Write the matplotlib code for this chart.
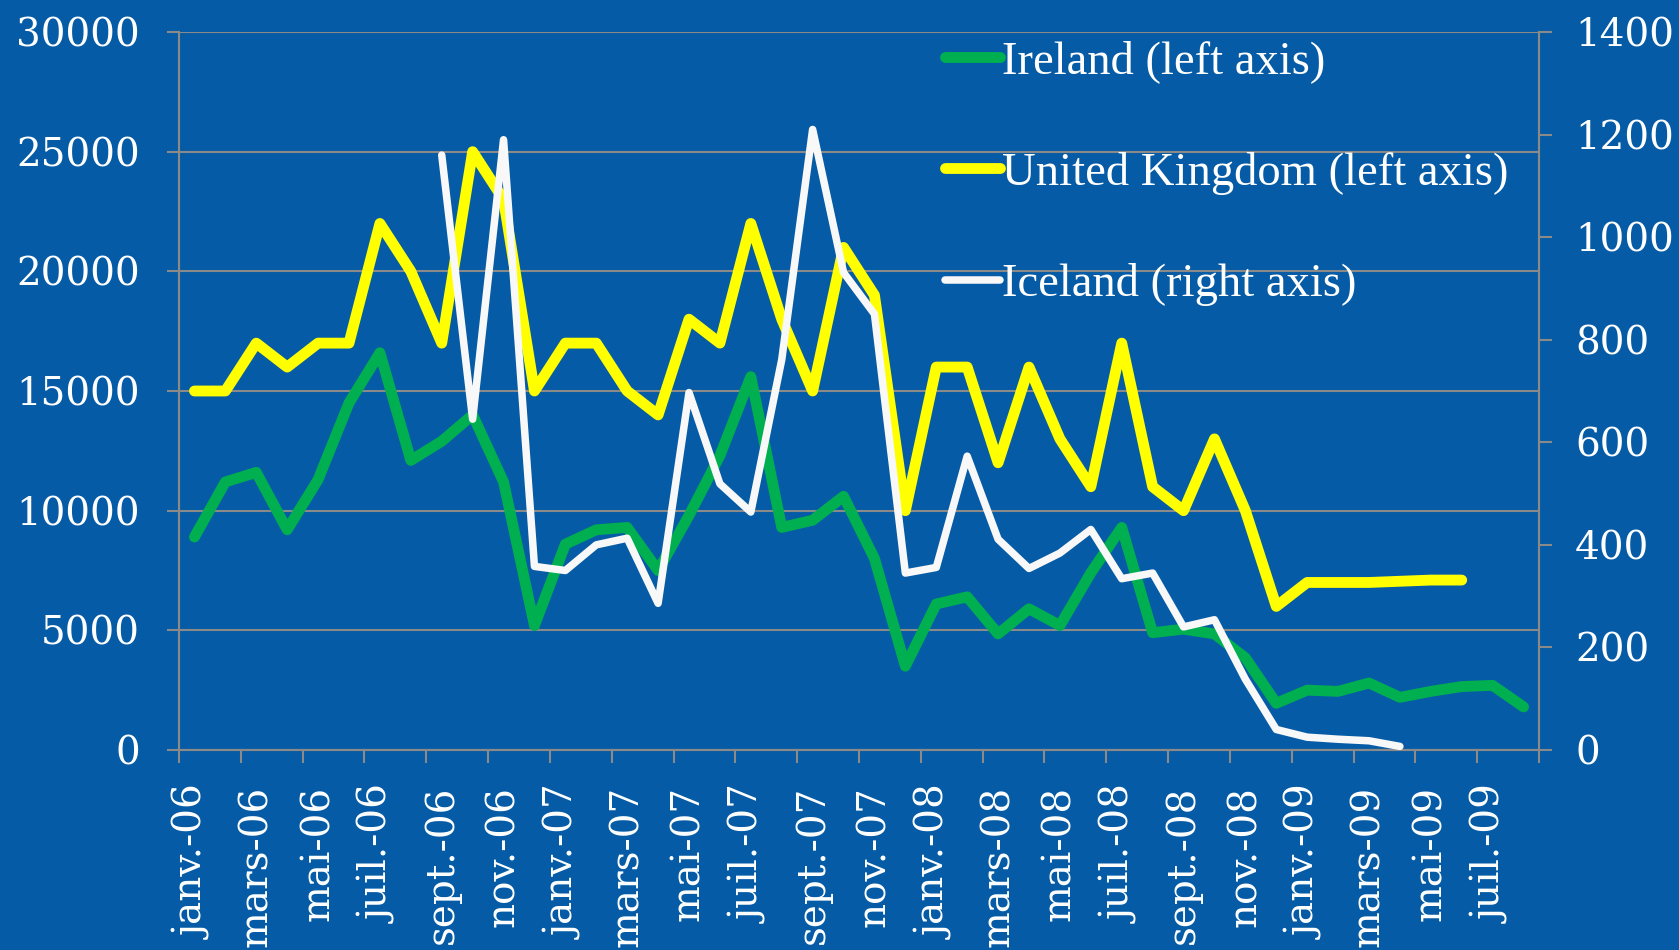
import numpy as np
import matplotlib
matplotlib.use("Agg")
import matplotlib.pyplot as plt
from matplotlib.ticker import FixedLocator, NullFormatter, FixedFormatter

month_names = ['janv.', 'févr.', 'mars', 'avr.', 'mai', 'juin',
               'juil.', 'août', 'sept.', 'oct.', 'nov.', 'déc.']
years = ['06', '07', '08', '09']
categories = [f"{m}-{y}" for y in years for m in month_names][:44]

ireland = [8900, 11200, 11600, 9200, 11300, 14500, 16600, 12100, 12900, 14000,
           11200, 5200, 8600, 9200, 9300, 7500, 9800, 12300, 15600, 9300,
           9600, 10600, 8000, 3500, 6100, 6400, 4850, 5900, 5200, 7400,
           9300, 4900, 5050, 4850, 3850, 1950, 2500, 2450, 2800, 2200,
           2450, 2650, 2700, 1800]

uk = [15000, 15000, 17000, 16000, 17000, 17000, 22000, 20000, 17000, 25000,
      23000, 15000, 17000, 17000, 15000, 14000, 18000, 17000, 22000, 18000,
      15000, 21000, 19000, 10000, 16000, 16000, 12000, 16000, 13000, 11000,
      17000, 11000, 10000, 13000, 10000, 6000, 7000, 7000, 7000, 7050,
      7100, 7100, None, None]

iceland = [None] * 8 + [1160, 645, 1190, 358, 350, 400, 413, 286, 697, 519,
                        464, 761, 1210, 931, 850, 345, 356, 573, 411, 354,
                        384, 430, 334, 345, 240, 254, 138, 40, 25, 21,
                        18, 7] + [None] * 4

left_ticks = [0, 5000, 10000, 15000, 20000, 25000, 30000]
right_ticks = [0, 200, 400, 600, 800, 1000, 1200, 1400]

BG = '#055BA5'
GRID = '#8A8A8A'
GREEN = '#00B050'
YELLOW = '#FFFF00'
WHITE = '#F8F8F8'

def arr(v):
    return np.array([np.nan if x is None else x for x in v], dtype=float)

fig = plt.figure(figsize=(16.79, 9.50), dpi=100, facecolor=BG)
ax = fig.add_axes([179/1679, 1 - 750/950, (1539-179)/1679, (750-32)/950])
ax.set_facecolor(BG)
ax2 = ax.twinx()
ax2.patch.set_visible(False)

x = np.arange(len(categories))
ax.plot(x, arr(ireland), color=GREEN, lw=7.8, solid_capstyle='round',
        label='Ireland (left axis)', zorder=3)
ax.plot(x, arr(uk), color=YELLOW, lw=7.8, solid_capstyle='round',
        label='United Kingdom (left axis)', zorder=4)
ax2.plot(x, arr(iceland), color=WHITE, lw=5.4, solid_capstyle='round',
         label='Iceland (right axis)', zorder=5)

ax.set_xlim(-0.5, len(categories) - 0.5)
ax.set_ylim(0, 30000)
ax2.set_ylim(0, 1400)

ax.set_yticks(left_ticks)
ax.set_yticklabels([str(t) for t in left_ticks])
ax2.set_yticks(right_ticks)
ax2.set_yticklabels([str(t) for t in right_ticks])

ax.grid(axis='y', color=GRID, lw=1.5, zorder=1)
ax.set_axisbelow(True)

# x ticks: marks at boundaries, labels at category centres
bounds = np.arange(-0.5, len(categories), 2)
ax.xaxis.set_major_locator(FixedLocator(bounds))
ax.xaxis.set_major_formatter(NullFormatter())
label_pos = x[::2]
ax.xaxis.set_minor_locator(FixedLocator(label_pos))
ax.xaxis.set_minor_formatter(FixedFormatter([categories[i] for i in label_pos]))

ax.tick_params(axis='x', which='major', length=9, width=1.5, color=GRID, direction='out')
ax.tick_params(axis='x', which='minor', length=0, pad=26, labelcolor='white',
               labelsize=28, rotation=90)
for lab in ax.get_xticklabels(minor=True):
    lab.set_family('DejaVu Serif')
    lab.set_va('top')
    lab.set_ha('center')

ax.tick_params(axis='y', length=9, width=1.5, color=GRID, pad=19,
               labelcolor='white', labelsize=28)
ax2.tick_params(axis='y', length=9, width=1.5, color=GRID, pad=17,
                labelcolor='white', labelsize=28)
for lab in ax.get_yticklabels() + ax2.get_yticklabels():
    lab.set_family('DejaVu Serif')

for a in (ax, ax2):
    for s in ('left', 'right', 'bottom'):
        a.spines[s].set_color(GRID)
        a.spines[s].set_linewidth(1.5)
    a.spines['top'].set_visible(False)

h1, l1 = ax.get_legend_handles_labels()
h2, l2 = ax2.get_legend_handles_labels()
leg = fig.legend(h1 + h2, l1 + l2, loc='upper left',
                 bbox_to_anchor=(945/1679, 1 - 40/950),
                 frameon=False, prop=dict(family='Liberation Serif', size=33.6),
                 handlelength=1.17, handletextpad=0.05, labelspacing=1.47,
                 borderpad=0, borderaxespad=0)
for t in leg.get_texts():
    t.set_color('white')

fig.savefig('out.png', dpi=100, facecolor=BG)
